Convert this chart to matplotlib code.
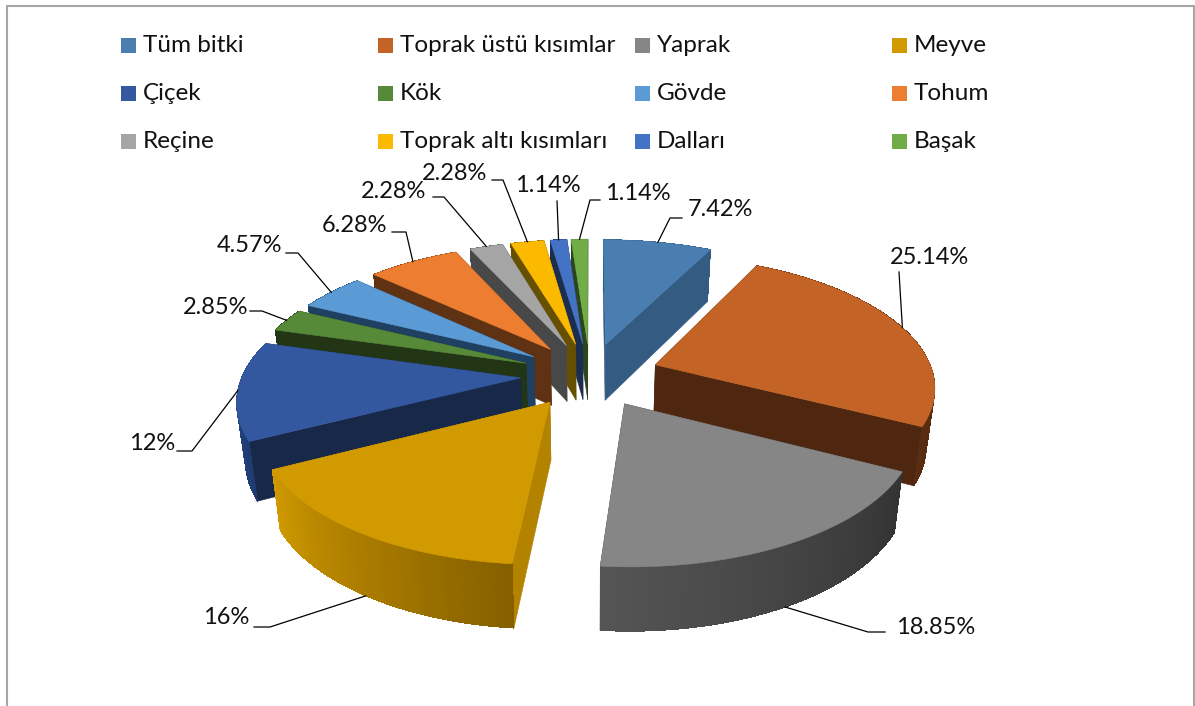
import numpy as np
import matplotlib
matplotlib.use('Agg')
import matplotlib.pyplot as plt
from matplotlib.colors import to_rgb
from matplotlib.patches import Polygon, Rectangle

plt.rcParams['font.family'] = ['Lato', 'DejaVu Sans']

# data
names = ['Tüm bitki', 'Toprak üstü kısımlar', 'Yaprak', 'Meyve',
         'Çiçek', 'Kök', 'Gövde', 'Tohum',
         'Reçine', 'Toprak altı kısımları', 'Dalları', 'Başak']
values = [7.42, 25.14, 18.85, 16, 12, 2.85, 4.57, 6.28, 2.28, 2.28, 1.14, 1.14]
labels = ['7.42%', '25.14%', '18.85%', '16%', '12%', '2.85%', '4.57%', '6.28%',
          '2.28%', '2.28%', '1.14%', '1.14%']

# colours
top_col = ['#4A7EB0', '#C36426', '#868686', '#D19A00', '#34589F', '#578A38',
           '#5B9BD5', '#ED7D31', '#A5A5A5', '#FBBA00', '#4472C4', '#70AD47']
cut_col = ['#345C82', '#4F2710', '#3A3A3A', '#B38300', '#182848', '#223615',
           '#1F4060', '#5F3213', '#484848', '#665000', '#1B2E50', '#2D451C']
wall_a = ['#345C82', '#4F2710', '#333333', '#855F00', '#1F3A70', '#223615',
          '#1F4060', '#5F3213', '#484848', '#665000', '#1B2E50', '#2D451C']
wall_b = ['#345C82', '#5A2C12', '#555555', '#D19A00', '#34589F', '#223615',
          '#1F4060', '#5F3213', '#484848', '#665000', '#1B2E50', '#2D451C']

# label layout, in pixels
label_xy = [(720, 210), (930, 258), (936, 627), (226, 618), (152, 444), (216, 308),
            (250, 246), (355, 225), (394, 191), (455, 173), (548, 185), (638, 194)]
elbows = [[(682, 218), (670, 218)], [(899, 272)], [(885, 632), (868, 632)],
          [(254, 627), (270, 627)], [(177, 451), (192, 451)], [(250, 311), (262, 311)],
          [(286, 253), (298, 253)], [(392, 232), (406, 232)], [(433, 197), (444, 197)],
          [(492, 180), (503, 180)], [(557, 201)], [(600, 200), (590, 200)]]

# projection of the pie
cx, cy = 590, 374.7
rx, ry = 278, 128.8
persp = 0.15
explode = 0.25
depth = 57


def project(x, y, low=False):
    s = 1 / (1 - persp * y)
    px = cx + rx * x * s
    py = cy + ry * y * s
    if low:
        px = cx + (px - cx) * 0.975
        py = py + depth * s ** 0.6
    return px, py


def rim(th, mid, r=1.0, low=False):
    x = explode * np.sin(mid) + r * np.sin(th)
    y = -explode * np.cos(mid) - r * np.cos(th)
    return project(x, y, low)


fig = plt.figure(figsize=(11.95, 7.06), dpi=100)
ax = fig.add_axes([0, 0, 1, 1])
ax.set_xlim(0, 1195)
ax.set_ylim(706, 0)
ax.axis('off')

# frame, open at the bottom
ax.plot([7, 7, 1194, 1194], [706, 6, 6, 706], color='#A6A6A6', lw=1.5)

edges = np.cumsum([0] + values) / sum(values) * 2 * np.pi
mids = (edges[:-1] + edges[1:]) / 2

for i in sorted(range(len(values)), key=lambda k: -np.cos(mids[k])):
    a1, a2, m = edges[i], edges[i + 1], mids[i]
    th = np.linspace(a1, a2, max(int((a2 - a1) * 60), 3))
    apex_t = rim(0, m, r=0)
    apex_b = rim(0, m, r=0, low=True)
    for a in (a1, a2):
        pts = [apex_t, rim(a, m), rim(a, m, low=True), apex_b]
        ax.add_patch(Polygon(pts, fc=cut_col[i], ec=cut_col[i], lw=0.4))
    ca, cb = np.array(to_rgb(wall_a[i])), np.array(to_rgb(wall_b[i]))
    quads = list(zip(th[:-1], th[1:]))
    quads.sort(key=lambda q: -np.cos(q[0]))
    for t1, t2 in quads:
        f = ((t1 + t2) / 2 - a1) / (a2 - a1)
        col = ca + (cb - ca) * f
        pts = [rim(t1, m), rim(t2, m), rim(t2, m, low=True), rim(t1, m, low=True)]
        ax.add_patch(Polygon(pts, fc=col, ec='none', antialiased=False))
    top = [apex_t] + [rim(t, m) for t in th]
    ax.add_patch(Polygon(top, fc=top_col[i], ec=top_col[i], lw=0.4))

# data labels and their leader lines
for i, lab in enumerate(labels):
    end = rim(mids[i], mids[i], low=np.cos(mids[i]) < -0.5)
    pts = elbows[i] + [end]
    ax.plot([p[0] for p in pts], [p[1] for p in pts], color='black', lw=0.9)
    ax.text(label_xy[i][0], label_xy[i][1], lab, fontsize=17, color='#111111',
            ha='center', va='center')

# legend
for i, name in enumerate(names):
    col, row = i % 4, i // 4
    x = 121 + col * 257
    y = 45 + row * 48
    ax.add_patch(Rectangle((x, y - 7), 15, 15, fc=top_col[i], ec='none'))
    ax.text(x + 22, y + 1, name, fontsize=17.5, color='#111111', va='center')

fig.savefig('out.png', dpi=100)
